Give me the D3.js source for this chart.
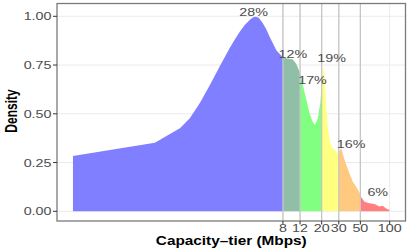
<!DOCTYPE html>
<html>
<head>
<meta charset="utf-8">
<script src="https://cdn.jsdelivr.net/npm/d3@7"></script>
<style>
  body { margin: 0; background: #fff; }
  text { font-family: 'Liberation Sans', Arial, sans-serif; }
</style>
</head>
<body>
<svg id="chart" width="411" height="249"></svg>
<script>
// density curve (x in Mbps, log axis)
const tierMbps = [0.0554, 0.386, 0.698, 0.883, 1.12, 1.42, 1.8, 2.27, 2.56, 2.88, 3.24, 3.64, 3.91, 4.2, 4.51, 4.95, 5.38, 5.84, 6.84,
  8, 8.94, 10.1, 10.98, 12, 13.4, 15, 16.2, 17.1, 18.3, 19.35, 20, 21.1, 21.9, 23, 24.1, 25.1, 27.1,
  29.3, 31.8, 34.4, 38.6, 41.8, 45.3, 49, 50, 55.1, 61.9, 69.7, 78.5, 84.9, 92, 100]
const density = [0.284, 0.352, 0.426, 0.477, 0.555, 0.648, 0.745, 0.837, 0.881, 0.921, 0.955, 0.981, 0.994, 0.998, 0.992, 0.966, 0.935, 0.895, 0.826,
  0.789, 0.784, 0.779, 0.755, 0.709, 0.607, 0.504, 0.458, 0.443, 0.478, 0.555, 0.648, 0.75, 0.596, 0.443, 0.366, 0.331, 0.314,
  0.297, 0.323, 0.263, 0.195, 0.152, 0.126, 0.095, 0.078, 0.049, 0.041, 0.037, 0.024, 0.029, 0.015, 0.007]

const breaks = [8, 12, 20, 30, 50, 100]
const segmentColors = ['#7f7fff', '#8fbfa6', '#80ff80', '#ffff80', '#ffc97f', '#ff7f7f']
const shareLabels = ['28%', '12%', '17%', '19%', '16%', '6%']
const shareX = [4.0, 10.1, 16.1, 25.3, 40.2, 75.4]
const shareY = [1.0, 0.786, 0.653, 0.767, 0.323, 0.08]
const yTicks = [0, 0.25, 0.5, 0.75, 1]

const svg = d3.select('#chart')
const panel = { left: 57, top: 3.5, right: 405.5, bottom: 221 }
const pad = (panel.right - panel.left) * 0.04545
const stretch = 1.3

const x = d3.scaleLog()
  .domain([tierMbps[0], 100])
  .range([panel.left + pad, panel.right - pad])
const y = d3.scaleLinear().domain([0, 1]).range([211.3, 16.3])

const points = tierMbps.map((t, i) => ({ t: t, d: density[i] }))

// grid
svg.append('g')
  .selectAll('line')
  .data(yTicks)
  .enter()
  .append('line')
  .attr('x1', panel.left).attr('x2', panel.right)
  .attr('y1', (d) => y(d)).attr('y2', (d) => y(d))
  .attr('stroke', '#ebebeb').attr('stroke-width', 1)
svg.append('g')
  .selectAll('line')
  .data(breaks)
  .enter()
  .append('line')
  .attr('x1', (d) => x(d)).attr('x2', (d) => x(d))
  .attr('y1', panel.top).attr('y2', panel.bottom)
  .attr('stroke', '#ebebeb').attr('stroke-width', 1)

// filled segments, one clip per tier
const lows = [tierMbps[0]].concat(breaks.slice(0, -1))
const area = d3.area()
  .x((p) => x(p.t))
  .y0(y(0))
  .y1((p) => y(p.d))

const defs = svg.append('defs')
lows.forEach((lo, i) => {
  defs.append('clipPath')
    .attr('id', 'seg' + i)
    .append('rect')
    .attr('x', x(lo))
    .attr('y', panel.top)
    .attr('width', x(breaks[i]) - x(lo))
    .attr('height', panel.bottom - panel.top)
  svg.append('path')
    .datum(points)
    .attr('d', area)
    .attr('fill', segmentColors[i])
    .attr('clip-path', 'url(#seg' + i + ')')
})

// tier boundaries
svg.append('g')
  .selectAll('line')
  .data(breaks.slice(0, -1))
  .enter()
  .append('line')
  .attr('x1', (d) => x(d)).attr('x2', (d) => x(d))
  .attr('y1', panel.top).attr('y2', panel.bottom)
  .attr('stroke', '#c6c6c6').attr('stroke-width', 1.3)

// share labels
svg.append('g')
  .selectAll('text')
  .data(shareLabels)
  .enter()
  .append('text')
  .attr('text-anchor', 'middle')
  .attr('transform', (d, i) => `translate(${x(shareX[i])},${y(shareY[i])}) scale(${stretch},1)`)
  .attr('font-size', '11px')
  .attr('fill', '#4d4d4d')
  .text((d) => d)

// border
svg.append('rect')
  .attr('x', panel.left).attr('y', panel.top)
  .attr('width', panel.right - panel.left)
  .attr('height', panel.bottom - panel.top)
  .attr('fill', 'none')
  .attr('stroke', '#7a7a7a')
  .attr('stroke-width', 1.3)

// y axis
const yAxis = svg.append('g')
yTicks.forEach((t) => {
  yAxis.append('line')
    .attr('x1', panel.left - 4).attr('x2', panel.left)
    .attr('y1', y(t)).attr('y2', y(t))
    .attr('stroke', '#333').attr('stroke-width', 1)
  yAxis.append('text')
    .attr('text-anchor', 'end')
    .attr('dy', '0.36em')
    .attr('transform', `translate(${panel.left - 5.5},${y(t)}) scale(${stretch},1)`)
    .attr('font-size', '11px')
    .attr('fill', '#4d4d4d')
    .text(d3.format('.2f')(t))
})

// x axis
const xAxis = svg.append('g')
breaks.forEach((b) => {
  xAxis.append('line')
    .attr('x1', x(b)).attr('x2', x(b))
    .attr('y1', panel.bottom).attr('y2', panel.bottom + 3.5)
    .attr('stroke', '#333').attr('stroke-width', 1)
  xAxis.append('text')
    .attr('text-anchor', 'middle')
    .attr('transform', `translate(${x(b)},232.3) scale(${stretch},1)`)
    .attr('font-size', '11px')
    .attr('fill', '#4d4d4d')
    .text(b)
})

// titles
svg.append('text')
  .attr('text-anchor', 'middle')
  .attr('transform', `translate(${(panel.left + panel.right) / 2},244.5) scale(1.28,1)`)
  .attr('font-size', '12px')
  .attr('font-weight', 'bold')
  .text('Capacity\u2013tier (Mbps)')
svg.append('text')
  .attr('text-anchor', 'middle')
  .attr('transform', `translate(17,111) scale(${stretch},1) rotate(-90)`)
  .attr('font-size', '12px')
  .attr('font-weight', 'bold')
  .text('Density')
</script>
</body>
</html>
